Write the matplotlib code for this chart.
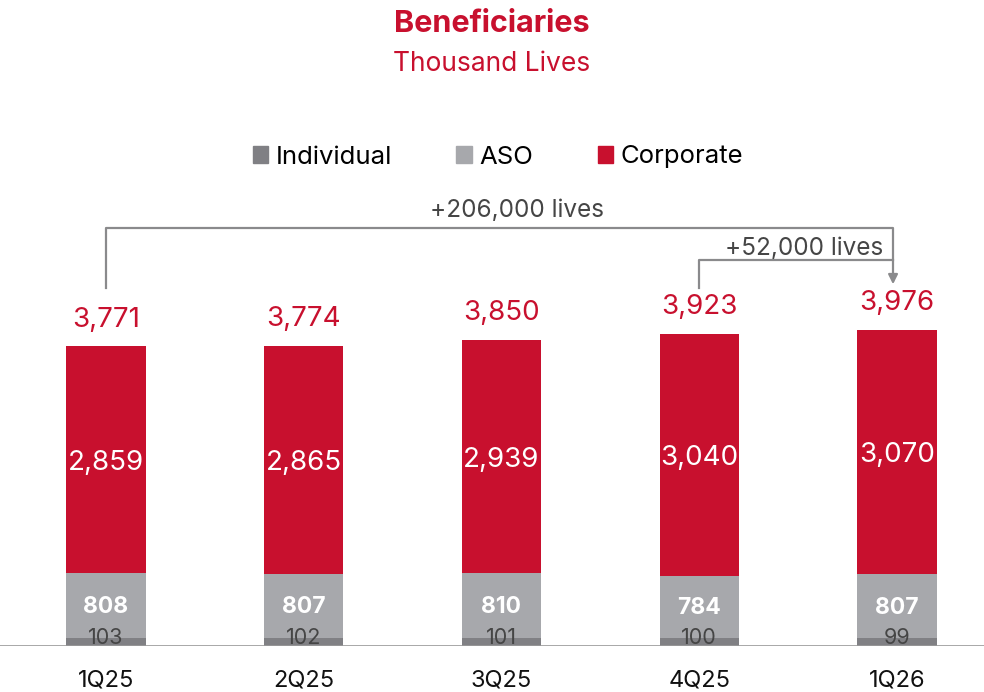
import matplotlib.pyplot as plt
from matplotlib.patches import Patch
from matplotlib.transforms import blended_transform_factory

plt.rcParams['font.family'] = ['Inter', 'DejaVu Sans']

quarters = ['1Q25', '2Q25', '3Q25', '4Q25', '1Q26']
individual = [103, 102, 101, 100, 99]
aso = [808, 807, 810, 784, 807]
corporate = [2859, 2865, 2939, 3040, 3070]
totals = [3771, 3774, 3850, 3923, 3976]

red = '#C8102E'
c_aso = '#A7A8AC'
c_ind = '#808084'
txt_gray = '#454545'

fig = plt.figure(figsize=(9.84, 6.92), dpi=100)
ax = fig.add_axes([0, 46 / 692, 1, 500 / 692])

x = list(range(len(quarters)))
w = 0.4
ax.bar(x, individual, w, color=c_ind)
ax.bar(x, aso, w, bottom=individual, color=c_aso)
bot2 = [a + b for a, b in zip(individual, aso)]
ax.bar(x, corporate, w, bottom=bot2, color=red)

for i in x:
    ax.text(i, 105, f'{individual[i]:,}', ha='center', va='center',
            fontsize=15.5, color=txt_gray)
    ax.text(i, individual[i] + aso[i] / 2 - 20, f'{aso[i]:,}', ha='center', va='center',
            fontsize=16.5, color='white', fontweight='bold')
    ax.text(i, bot2[i] + corporate[i] / 2 - 40, f'{corporate[i]:,}', ha='center', va='center',
            fontsize=20, color='white')
    ax.text(i, totals[i] + 330, f'{totals[i]:,}', ha='center', va='center',
            fontsize=20, color=red)

ax.axhline(0, color='#9a9a9a', lw=1.2)

# growth brackets
gc = '#8a8a8c'
ax.plot([0, 0, 3.98, 3.98], [4500, 5250, 5250, 4600], color=gc, lw=1.6)
ax.annotate('', xy=(3.98, 4510), xytext=(3.98, 4650),
            arrowprops=dict(arrowstyle='-|>', color=gc, lw=1.6, mutation_scale=14))
ax.plot([3.0, 3.0, 3.98], [4500, 4850, 4850], color=gc, lw=1.6)
ax.text(2.08, 5465, '+206,000 lives', ha='center', va='center', fontsize=17.5, color=txt_gray)
ax.text(3.93, 5000, '+52,000 lives', ha='right', va='center', fontsize=17.5, color=txt_gray)

ax.set_xlim(-0.536, 4.44)
ax.set_ylim(0, 500 / 0.0796)
ax.set_xticks([])
ax.set_yticks([])
for s in ax.spines.values():
    s.set_visible(False)

trans = blended_transform_factory(ax.transData, fig.transFigure)
for i in x:
    ax.text(i, 1 - 680 / 692, quarters[i], transform=trans, ha='center', va='center',
            fontsize=17, color='#111111')

handles = [Patch(color=c_ind, label='Individual'),
           Patch(color=c_aso, label='ASO'),
           Patch(color=red, label='Corporate')]
fig.legend(handles=handles, loc='center', bbox_to_anchor=(498 / 984, 1 - 157 / 692), ncol=3,
           frameon=False, fontsize=18.5, handlelength=0.6, handleheight=0.6,
           handletextpad=0.3, columnspacing=2.5)

fig.text(0.5, 1 - 24 / 692, 'Beneficiaries', ha='center', va='center', fontsize=22,
         fontweight='bold', color=red)
fig.text(0.5, 1 - 64 / 692, 'Thousand Lives', ha='center', va='center', fontsize=19,
         color=red)

fig.savefig('out.png', dpi=100)
